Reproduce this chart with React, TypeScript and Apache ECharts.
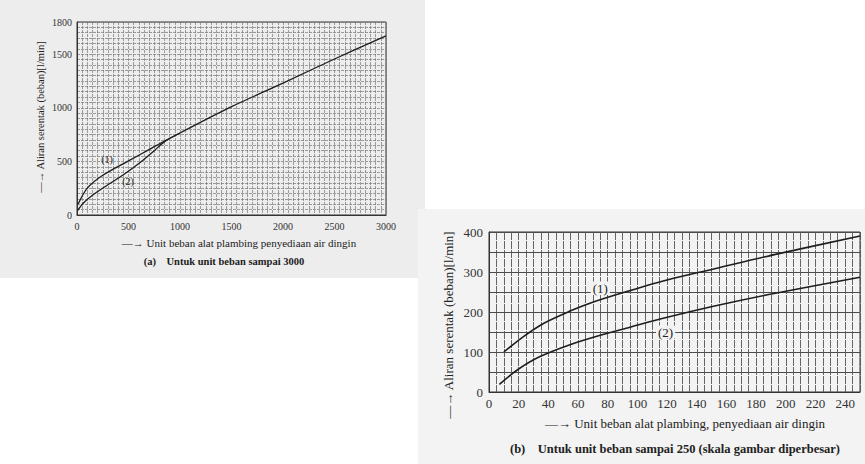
import React, { useEffect, useRef } from 'react';
import * as echarts from 'echarts';

// ---- data: chart (a) up to 3000 units ----
const xTicksA = [0, 500, 1000, 1500, 2000, 2500, 3000];
const yTicksA = [0, 500, 1000, 1500, 1800];
const curveA1: [number, number][] = [
  [10, 100], [100, 250], [250, 370], [500, 505], [700, 610], [850, 690],
  [1000, 765], [1500, 1010], [2000, 1230], [2500, 1455], [3000, 1670],
];
const curveA2: [number, number][] = [
  [5, 40], [60, 110], [150, 185], [300, 282], [450, 375], [600, 480], [750, 600], [850, 684], [1000, 765],
];

// ---- data: chart (b) up to 250 units ----
const xTicksB = [0, 20, 40, 60, 80, 100, 120, 140, 160, 180, 200, 220, 240];
const yTicksB = [0, 100, 200, 300, 400];
const curveB1: [number, number][] = [
  [10, 100], [23, 138], [37, 172], [55, 203], [68, 222], [90, 248],
  [120, 280], [152, 308], [193, 344], [250, 390],
];
const curveB2: [number, number][] = [
  [7, 19], [19, 55], [34, 88], [55, 119], [75, 142], [95, 162],
  [116, 183], [152, 215], [193, 247], [250, 287],
];

const yNameA = '—→ Aliran serentak (beban)[l/min]';
const xNameA = '—→ Unit beban alat plambing penyediaan air dingin';
const captionA = '(a)    Untuk unit beban sampai 3000';
const yNameB = '—→ Aliran serentak (beban)[l/min]';
const xNameB = '—→ Unit beban alat plambing, penyediaan air dingin';
const captionB = '(b)    Untuk unit beban sampai 250 (skala gambar diperbesar)';

const FONT = '"Liberation Serif", "DejaVu Serif", serif';
const INK = '#1e1e1e';

export default function App() {
  const ref = useRef<HTMLDivElement>(null);
  useEffect(() => {
    if (!ref.current) return;
    const chart = echarts.init(ref.current, undefined, { renderer: 'svg' });
    const bgB = '#f3f3f3';
    const baseGraphic: any[] = [
      {
        type: 'text', x: 40, y: 117, rotation: Math.PI / 2,
        style: { text: yNameA, fontFamily: FONT, fontSize: 10.5, fill: '#222', align: 'center', verticalAlign: 'middle' },
      },
      {
        type: 'text', x: 239, y: 243,
        style: { text: xNameA, fontFamily: FONT, fontSize: 11, fill: '#222', align: 'center', verticalAlign: 'middle' },
      },
      {
        type: 'text', x: 224, y: 261,
        style: { text: captionA, fontFamily: FONT, fontSize: 10.5, fontWeight: 'bold', fill: '#222', align: 'center', verticalAlign: 'middle' },
      },
      {
        type: 'text', x: 448, y: 325, rotation: Math.PI / 2,
        style: { text: yNameB, fontFamily: FONT, fontSize: 13, fill: '#222', align: 'center', verticalAlign: 'middle' },
      },
      {
        type: 'text', x: 685, y: 423,
        style: { text: xNameB, fontFamily: FONT, fontSize: 13, fill: '#222', align: 'center', verticalAlign: 'middle' },
      },
      {
        type: 'text', x: 675, y: 449,
        style: { text: captionB, fontFamily: FONT, fontSize: 12.5, fontWeight: 'bold', fill: '#222', align: 'center', verticalAlign: 'middle' },
      },
    ];
    const option: any = {
      animation: false,
      backgroundColor: 'transparent',
      grid: [
        { left: 77, top: 22, width: 309, height: 193, show: true, borderColor: '#333', borderWidth: 1 },
        { left: 489, top: 232, width: 371, height: 160, show: true, borderColor: '#333', borderWidth: 1 },
      ],
      xAxis: [
        {
          type: 'value', gridIndex: 0, min: 0, max: 3000, interval: 50,
          axisLine: { show: true, lineStyle: { color: '#333', width: 1 } },
          axisTick: { show: false },
          axisLabel: {
            margin: 6, color: '#333', fontFamily: FONT, fontSize: 10,
            formatter: (v: number) => (xTicksA.includes(v) ? String(v) : ''),
          },
          splitLine: { show: true, lineStyle: { color: '#777', width: 0.7, type: [3, 1] } },
        },
        {
          type: 'value', gridIndex: 1, min: 0, max: 250, interval: 5,
          axisLine: { show: true, lineStyle: { color: '#333', width: 1 } },
          axisTick: { show: false },
          axisLabel: {
            margin: 5, color: '#333', fontFamily: FONT, fontSize: 13,
            formatter: (v: number) => (xTicksB.includes(v) ? String(v) : ''),
          },
          splitLine: { show: true, lineStyle: { color: '#555', width: 0.9, type: [8, 1] } },
        },
      ],
      yAxis: [
        {
          type: 'value', gridIndex: 0, min: 0, max: 1800, interval: 50,
          axisLine: { show: true, lineStyle: { color: '#333', width: 1 } },
          axisTick: { show: false },
          axisLabel: {
            margin: 5, color: '#333', fontFamily: FONT, fontSize: 10,
            formatter: (v: number) => (yTicksA.includes(v) ? String(v) : ''),
          },
          splitLine: { show: true, lineStyle: { color: '#777', width: 0.7, type: [3, 1] } },
        },
        {
          type: 'value', gridIndex: 1, min: 0, max: 400, interval: 50,
          axisLine: { show: true, lineStyle: { color: '#333', width: 1 } },
          axisTick: { show: false },
          axisLabel: {
            margin: 6, color: '#333', fontFamily: FONT, fontSize: 13,
            formatter: (v: number) => (yTicksB.includes(v) ? String(v) : ''),
          },
          splitLine: { show: true, lineStyle: { color: '#4a4a4a', width: 1 } },
        },
      ],
      series: [
        {
          type: 'line', xAxisIndex: 0, yAxisIndex: 0, data: curveA1, showSymbol: false, symbol: 'none',
          smooth: 0.3, lineStyle: { color: INK, width: 1.3 },
        },
        {
          type: 'line', xAxisIndex: 0, yAxisIndex: 0, data: curveA2, showSymbol: false, symbol: 'none',
          smooth: 0.3, lineStyle: { color: INK, width: 1.3 },
        },
        {
          type: 'line', xAxisIndex: 1, yAxisIndex: 1, data: curveB1, showSymbol: false, symbol: 'none',
          smooth: 0.3, lineStyle: { color: INK, width: 1.6 }, z: 3,
        },
        {
          type: 'line', xAxisIndex: 1, yAxisIndex: 1, data: curveB2, showSymbol: false, symbol: 'none',
          smooth: 0.3, lineStyle: { color: INK, width: 1.6 }, z: 3,
        },
      ],
      graphic: baseGraphic,
    };
    chart.setOption(option);

    // curve labels, placed in data coordinates through the grids
    const curveLabels: { text: string; grid: number; coord: [number, number]; size: number; bg?: string }[] = [
      { text: '(1)', grid: 0, coord: [291, 513], size: 10 },
      { text: '(2)', grid: 0, coord: [495, 317], size: 10 },
      { text: '(1)', grid: 1, coord: [75, 260], size: 13, bg: bgB },
      { text: '(2)', grid: 1, coord: [119, 150], size: 13, bg: bgB },
    ];
    const labelGraphic = curveLabels.map((l) => {
      const p = chart.convertToPixel({ gridIndex: l.grid }, l.coord) as number[];
      return {
        type: 'text', x: p[0], y: p[1], z: 10,
        style: {
          text: l.text, fontFamily: FONT, fontSize: l.size, fill: '#222', align: 'center', verticalAlign: 'middle',
          backgroundColor: l.bg, padding: l.bg ? [0, 2] : 0,
        },
      };
    });
    chart.setOption({ graphic: [...baseGraphic, ...labelGraphic] });
    return () => chart.dispose();
  }, []);

  return (
    <div style={{ position: 'absolute', left: 0, top: 0, width: 865, height: 464, background: '#ffffff', overflow: 'hidden' }}>
      <div style={{ position: 'absolute', left: 0, top: 0, width: 425, height: 278, background: '#ededed' }} />
      <div style={{ position: 'absolute', left: 418, top: 209, width: 447, height: 255, background: '#f3f3f3' }} />
      <div ref={ref} style={{ position: 'absolute', left: 0, top: 0, width: 865, height: 464 }} />
    </div>
  );
}
